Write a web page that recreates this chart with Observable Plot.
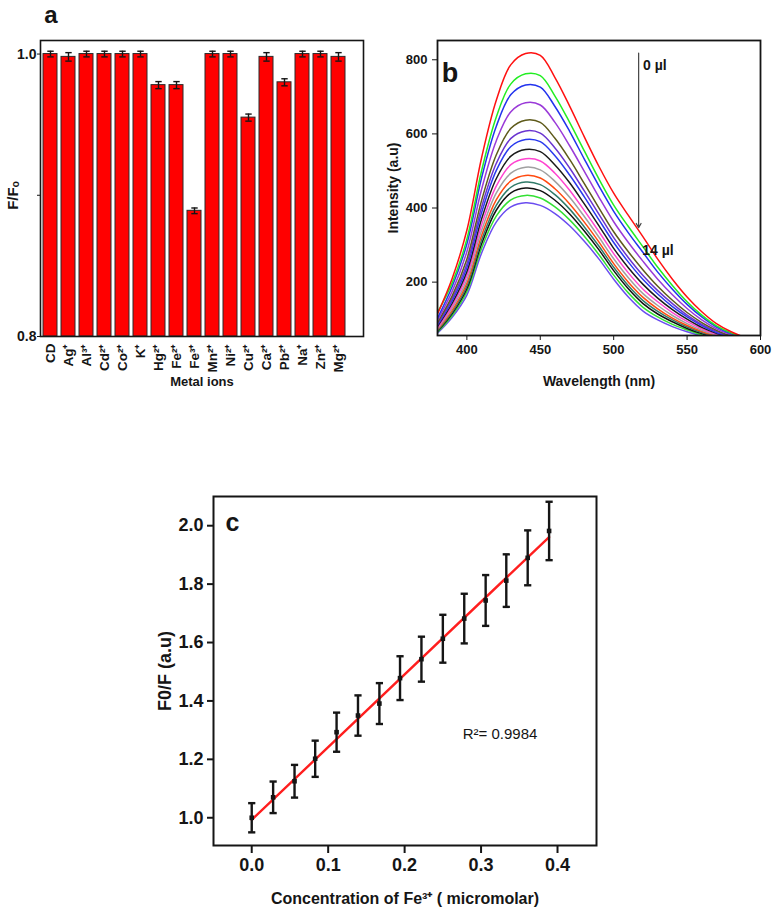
<!DOCTYPE html>
<html><head><meta charset="utf-8">
<script src="https://cdn.jsdelivr.net/npm/d3@7"></script>
<script src="https://cdn.jsdelivr.net/npm/@observablehq/plot@0.6"></script>
<style>
html,body{margin:0;padding:0;background:#fff;}
#root{position:relative;width:774px;height:910px;overflow:hidden;background:#fff;}
.panel{position:absolute;}
</style></head><body><div id="root">
<div id="pa" class="panel" style="left:0;top:0"></div>
<div id="pb" class="panel" style="left:370px;top:0"></div>
<div id="pc" class="panel" style="left:100px;top:440px"></div>
</div>
<script>
// ---------- Panel a data ----------
const metals = ["CD","Ag⁺","Al³⁺","Cd²⁺","Co²⁺","K⁺","Hg²⁺","Fe²⁺","Fe³⁺","Mn²⁺","Ni²⁺","Cu²⁺","Ca²⁺","Pb²⁺","Na⁺","Zn²⁺","Mg²⁺"];
const ratio = [1.000,0.998,1.000,1.000,1.000,1.000,0.978,0.978,0.889,1.000,1.000,0.955,0.998,0.980,1.000,1.000,0.998];
const ratioErr = [0.002,0.003,0.002,0.002,0.002,0.002,0.0025,0.0025,0.002,0.002,0.002,0.0025,0.003,0.0025,0.002,0.002,0.003];
const yDomainA = [0.8, 1.0096];
const yTicksA = [0.8, 0.9, 1.0];
const yLabeledA = [0.8, 1.0];

// ---------- Panel b data ----------
const wavelengths = [380,390,400,410,420,430,440,450,460,470,480,490,500,510,520,530,540,550,560,570,580,590];
const doses = ["0 µl","1 µl","2 µl","3 µl","4 µl","5 µl","6 µl","7 µl","8 µl","9 µl","10 µl","11 µl","12 µl","13 µl","14 µl"];
const spectra = [
  [114,210,340,535,690,787,817,812,752,675,592,512,440,380,322,262,208,160,120,88,66,50],
  [118,198,316,500,645,735,762,757,702,631,554,478,408,350,295,240,191,147,111,82,63,49],
  [103,188,303,481,620,706,732,726,674,607,532,459,391,333,280,227,181,140,106,79,61,48],
  [97,175,282,450,581,660,684,678,631,568,499,429,363,307,256,208,166,129,98,74,58,47],
  [91,163,262,420,543,615,637,631,588,531,466,400,336,282,233,189,151,118,91,70,55,46],
  [87,156,249,402,520,588,608,602,562,508,446,383,320,266,218,177,142,111,86,67,54,45],
  [84,150,239,387,501,566,585,579,541,489,430,368,307,254,207,168,134,106,83,64,52,44],
  [81,143,228,370,479,540,558,552,516,468,411,352,291,239,194,157,126,100,78,62,51,44],
  [77,136,217,354,459,517,533,527,494,448,393,336,277,225,181,147,118,94,74,59,49,43],
  [74,130,206,339,440,494,510,503,472,429,377,321,263,212,169,137,110,88,70,57,48,42],
  [72,124,197,325,422,473,488,481,452,411,362,308,250,200,159,128,103,83,67,55,46,42],
  [69,119,189,313,407,456,470,463,436,397,349,297,240,190,150,121,98,79,64,53,45,41],
  [67,115,182,303,394,441,454,447,421,384,338,287,231,182,142,114,93,75,61,51,44,41],
  [65,110,174,291,378,422,434,427,403,368,324,274,219,171,132,106,86,71,58,49,43,40],
  [62,105,165,278,362,403,414,407,385,352,310,262,208,160,122,98,80,66,55,47,42,40]
];
const specColors = ["#ff1010","#22ee22","#2233ee","#9a3ad8","#5e5a1a","#6a34d0","#2a3aee","#1a1a1a","#ff44d0","#a0a0a0","#ff4a10","#2f7a68","#111111","#33e033","#6a4cf0"];
const xDomainB = [380, 600];
const yDomainB = [56, 852];
const xTicksB = [400,450,500,550,600];
const yTicksB = [200,400,600,800];
const arrowB = [{wl: 517, from: 818, to: 347}];
const notesB = [{wl: 520, v: 785, t: "0 µl"}, {wl: 519.5, v: 286, t: "14 µl"}];

// ---------- Panel c data ----------
const conc = [0,0.028,0.056,0.083,0.111,0.139,0.167,0.194,0.222,0.250,0.278,0.306,0.333,0.361,0.389];
const f0f = [1.000,1.070,1.125,1.202,1.293,1.350,1.391,1.478,1.543,1.613,1.682,1.744,1.812,1.890,1.982];
const f0fErr = [0.050,0.054,0.056,0.062,0.067,0.069,0.070,0.075,0.077,0.082,0.085,0.087,0.090,0.094,0.100];
const fitX = [0, 0.389];
const fitY = [0.993, 1.961];
const xDomainC = [-0.05, 0.451];
const yDomainC = [0.905, 2.1];
const xTicksC = [0, 0.1, 0.2, 0.3, 0.4];
const yTicksC = [1.0, 1.2, 1.4, 1.6, 1.8, 2.0];
const r2Note = [{x: 0.276, y: 1.285, t: "R²= 0.9984"}];

// ---------- helpers ----------
const FONT = '"Liberation Sans", Arial, Helvetica, sans-serif';
const NARROW = '"Liberation Sans Narrow", "Arial Narrow", "Liberation Sans", Arial, sans-serif';
const capSymbol = {draw(ctx, size){ const r = Math.sqrt(size/Math.PI); ctx.moveTo(-r,0); ctx.lineTo(r,0); }};
const INK = "#151515";

// ---------- Panel a ----------
const rowsA = metals.map((m,i) => ({ion: m, v: ratio[i], e: ratioErr[i]}));
const plotA = Plot.plot({
  width: 370, height: 400,
  marginLeft: 40, marginRight: 7, marginTop: 40, marginBottom: 64,
  style: {fontFamily: FONT, fontWeight: "bold", fontSize: "13px", color: INK, background: "transparent", overflow: "visible"},
  x: {domain: metals, paddingInner: 0.2, paddingOuter: 0.355, align: 0.15, axis: null},
  y: {domain: yDomainA, axis: null},
  marks: [
    Plot.barY(rowsA, {x: "ion", y1: yDomainA[0], y2: "v", fill: "#ff0000", stroke: "#2a2a2a", strokeWidth: 1}),
    Plot.ruleX(rowsA, {x: "ion", y1: d => d.v - d.e, y2: d => d.v + d.e, stroke: INK, strokeWidth: 1.4}),
    Plot.dot(rowsA, {x: "ion", y: d => d.v + d.e, symbol: capSymbol, r: 3.2, fill: "none", stroke: INK, strokeWidth: 1.4}),
    Plot.dot(rowsA, {x: "ion", y: d => d.v - d.e, symbol: capSymbol, r: 3.2, fill: "none", stroke: INK, strokeWidth: 1.4}),
    Plot.frame({stroke: INK, strokeWidth: 1.6}),
    Plot.axisY({ticks: yTicksA, tickFormat: d => yLabeledA.includes(d) ? d.toFixed(1) : "", tickSize: 3, tickPadding: 1, fontSize: 14, label: null, stroke: INK}),
    Plot.axisX({tickSize: 0, tickRotate: -90, tickPadding: 7, fontSize: 13.5, label: null}),
    Plot.text(["F/Fₒ"], {frameAnchor: "left", rotate: -90, dx: -27, dy: 7, fontSize: 15, fontWeight: "bold", textAnchor: "middle", lineAnchor: "middle"}),
    Plot.text(["Metal ions"], {frameAnchor: "bottom", dy: 45, fontSize: 13, fontWeight: "bold", lineAnchor: "middle"}),
    Plot.text(["a"], {frameAnchor: "top-left", dx: 10.5, dy: -18, fontSize: 24, fontWeight: "bold", textAnchor: "middle", lineAnchor: "bottom"})
  ]
});
document.getElementById("pa").appendChild(plotA);

// ---------- Panel b ----------
const plotB = Plot.plot({
  width: 404, height: 400,
  marginLeft: 67, marginRight: 14, marginTop: 40, marginBottom: 65,
  style: {fontFamily: FONT, fontWeight: "bold", fontSize: "13px", color: INK, background: "transparent", overflow: "visible"},
  x: {domain: xDomainB, axis: null},
  y: {domain: yDomainB, axis: null},
  marks: [
    ...spectra.map((s, i) => ({s, i})).reverse().map(({s, i}) =>
      Plot.line(wavelengths.map((w, j) => ({wl: w, v: s[j]})), {x: "wl", y: "v", stroke: specColors[i], strokeWidth: 1.5, curve: "catmull-rom", clip: true})
    ),
    Plot.arrow(arrowB, {x1: "wl", x2: "wl", y1: "from", y2: "to", stroke: "#444", strokeWidth: 1.2, headLength: 6}),
    Plot.text(notesB, {x: "wl", y: "v", text: "t", textAnchor: "start", fontSize: 14, fontWeight: "bold", lineAnchor: "middle"}),
    Plot.frame({stroke: INK, strokeWidth: 1.8}),
    Plot.axisY({ticks: yTicksB, tickSize: 5, tickPadding: 5, fontSize: 13, label: null, stroke: INK}),
    Plot.axisX({ticks: xTicksB, tickSize: 5, tickPadding: 4, fontSize: 13, label: null, stroke: INK}),
    Plot.text(["Intensity (a.u)"], {frameAnchor: "left", rotate: -90, dx: -44, fontSize: 14, fontWeight: "bold", textAnchor: "middle", lineAnchor: "middle"}),
    Plot.text(["Wavelength (nm)"], {frameAnchor: "bottom", dy: 46, fontSize: 14, fontWeight: "bold", lineAnchor: "middle"}),
    Plot.text(["b"], {frameAnchor: "top-left", dx: 12.5, dy: 41.5, fontSize: 27, fontWeight: "bold", textAnchor: "middle", lineAnchor: "bottom"})
  ]
});
document.getElementById("pb").appendChild(plotB);

// ---------- Panel c ----------
const rowsC = conc.map((c, i) => ({x: c, y: f0f[i], e: f0fErr[i]}));
const fitRows = fitX.map((x, i) => ({x, y: fitY[i]}));
const plotC = Plot.plot({
  width: 520, height: 470,
  marginLeft: 113, marginRight: 24, marginTop: 56, marginBottom: 65,
  style: {fontFamily: FONT, fontWeight: "bold", fontSize: "18px", color: INK, background: "transparent", overflow: "visible"},
  x: {domain: xDomainC, axis: null},
  y: {domain: yDomainC, axis: null},
  marks: [
    Plot.line(fitRows, {x: "x", y: "y", stroke: "#ff1e1e", strokeWidth: 2.4}),
    Plot.ruleX(rowsC, {x: "x", y1: d => d.y - d.e, y2: d => d.y + d.e, stroke: INK, strokeWidth: 2.4}),
    Plot.dot(rowsC, {x: "x", y: d => d.y + d.e, symbol: capSymbol, r: 3.6, fill: "none", stroke: INK, strokeWidth: 2.4}),
    Plot.dot(rowsC, {x: "x", y: d => d.y - d.e, symbol: capSymbol, r: 3.6, fill: "none", stroke: INK, strokeWidth: 2.4}),
    Plot.dot(rowsC, {x: "x", y: "y", symbol: "square", r: 2.6, fill: INK, stroke: "none"}),
    Plot.text(r2Note, {x: "x", y: "y", text: "t", textAnchor: "start", fontSize: 15, fontWeight: "normal", fontFamily: NARROW, lineAnchor: "middle"}),
    Plot.frame({stroke: INK, strokeWidth: 2}),
    Plot.axisY({ticks: yTicksC, tickFormat: d => d.toFixed(1), tickSize: 6, tickPadding: 4, fontSize: 18, label: null, stroke: INK, strokeWidth: 2}),
    Plot.axisX({ticks: xTicksC, tickFormat: d => d.toFixed(1), tickSize: 8, tickPadding: 5, fontSize: 18, label: null, stroke: INK, strokeWidth: 2}),
    Plot.text(["F0/F (a.u)"], {frameAnchor: "left", rotate: -90, dx: -48, fontSize: 18, fontWeight: "bold", fontFamily: NARROW, textAnchor: "middle", lineAnchor: "middle"}),
    Plot.text(["Concentration of Fe³⁺ ( micromolar)"], {frameAnchor: "bottom", dy: 53, fontSize: 16, fontWeight: "bold", fontFamily: NARROW, lineAnchor: "middle"}),
    Plot.text(["c"], {frameAnchor: "top-left", dx: 19, dy: 34, fontSize: 25, fontWeight: "bold", textAnchor: "middle", lineAnchor: "bottom"})
  ]
});
document.getElementById("pc").appendChild(plotC);
</script></body></html>
